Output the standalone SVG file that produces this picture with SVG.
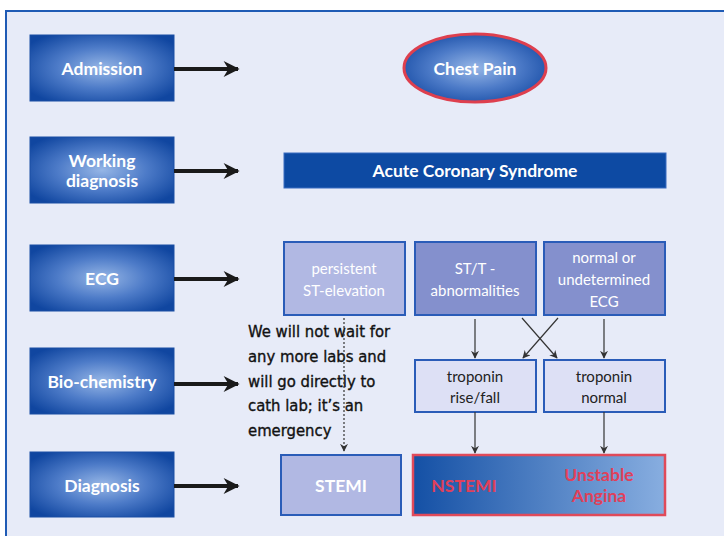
<svg xmlns="http://www.w3.org/2000/svg" width="724" height="536" viewBox="0 0 724 536">
<defs>
<radialGradient id="rg" cx="50%" cy="50%" r="62%">
<stop offset="0" stop-color="#96b6e6"/>
<stop offset="0.5" stop-color="#4d7bc8"/>
<stop offset="1" stop-color="#1046a0"/>
</radialGradient>
<linearGradient id="lg" x1="0" y1="0" x2="1" y2="0">
<stop offset="0" stop-color="#1450a5"/>
<stop offset="1" stop-color="#88aee0"/>
</linearGradient>
<marker id="thick" viewBox="0 0 10 10" refX="9" refY="5" markerWidth="5" markerHeight="4" orient="auto" markerUnits="strokeWidth">
<path d="M0,0 L10,5 L0,10 L3,5 Z" fill="#1a1a1a"/>
</marker>
<marker id="thin" viewBox="0 0 10 10" refX="9" refY="5" markerWidth="8" markerHeight="8" orient="auto" markerUnits="userSpaceOnUse">
<path d="M0,0 L10,5 L0,10 L3,5 Z" fill="#333"/>
</marker>
<style>
.lbox{fill:url(#rg);stroke:#1a4fa3;stroke-width:1}
.lt{font-family:Lato,"Open Sans",sans-serif;font-weight:bold;font-size:17.5px;fill:#ffffff;text-anchor:middle}
.wt{font-family:Lato,"Open Sans",sans-serif;font-size:15px;fill:#ffffff;text-anchor:middle}
.dt{font-family:Lato,"Open Sans",sans-serif;font-size:15px;fill:#222;text-anchor:middle}
.rt{font-family:Lato,"Open Sans",sans-serif;font-weight:bold;font-size:17.5px;fill:#e0405a;text-anchor:middle}
.hand{font-family:"DejaVu Sans Condensed","DejaVu Sans",sans-serif;font-size:16.5px;fill:#111;stroke:#111;stroke-width:0.35}
.big{stroke:#1a1a1a;stroke-width:4;fill:none;marker-end:url(#thick)}
.sm{stroke:#333;stroke-width:1.2;fill:none;marker-end:url(#thin)}
</style>
</defs>
<rect x="0" y="0" width="724" height="536" fill="#ffffff"/>
<rect x="6" y="11" width="730" height="540" fill="#e7ebf8" stroke="#1f5bb5" stroke-width="2"/>

<g id="admission"><rect class="lbox" x="30" y="35" width="144" height="66"/><text class="lt" x="102" y="75">Admission</text></g>
<g id="working"><rect class="lbox" x="30" y="137" width="144" height="66"/><text class="lt" x="102" y="167">Working</text><text class="lt" x="102" y="187">diagnosis</text></g>
<g id="ecg"><rect class="lbox" x="30" y="245" width="144" height="66"/><text class="lt" x="102" y="285">ECG</text></g>
<g id="biochem"><rect class="lbox" x="30" y="348" width="144" height="66"/><text class="lt" x="102" y="388">Bio-chemistry</text></g>
<g id="diagnosis"><rect class="lbox" x="30" y="452" width="144" height="65"/><text class="lt" x="102" y="492">Diagnosis</text></g>

<g id="chestpain"><ellipse cx="475" cy="68" rx="71" ry="34" fill="url(#rg)" stroke="#de3f4e" stroke-width="3"/><text class="lt" x="475" y="75">Chest Pain</text></g>
<g id="acs"><rect x="284" y="153" width="382" height="35" fill="#0d4aa3" stroke="#3a6cc0" stroke-width="1"/><text class="lt" x="475" y="177">Acute Coronary Syndrome</text></g>

<g id="persistent"><rect x="284" y="242" width="121" height="73" fill="#b1b8e3" stroke="#2a5cb8" stroke-width="2"/><text class="wt" x="344" y="274">persistent</text><text class="wt" x="344" y="296">ST-elevation</text></g>
<g id="stt"><rect x="415" y="242" width="121" height="73" fill="#8490cd" stroke="#2a5cb8" stroke-width="2"/><text class="wt" x="475" y="274">ST/T -</text><text class="wt" x="475" y="296">abnormalities</text></g>
<g id="normal"><rect x="544" y="242" width="121" height="73" fill="#8490cd" stroke="#2a5cb8" stroke-width="2"/><text class="wt" x="604" y="263">normal or</text><text class="wt" x="604" y="285">undetermined</text><text class="wt" x="604" y="307">ECG</text></g>

<g id="tropRise"><rect x="415" y="360" width="121" height="52" fill="#dde0f5" stroke="#2a5cb8" stroke-width="2"/><text class="dt" x="475" y="382">troponin</text><text class="dt" x="475" y="403">rise/fall</text></g>
<g id="tropNormal"><rect x="544" y="360" width="121" height="52" fill="#dde0f5" stroke="#2a5cb8" stroke-width="2"/><text class="dt" x="604" y="382">troponin</text><text class="dt" x="604" y="403">normal</text></g>

<g id="stemi"><rect x="281" y="455" width="120" height="60" fill="#b1b8e3" stroke="#2a5cb8" stroke-width="2"/><text class="lt" x="341" y="492">STEMI</text></g>
<g id="nstemi"><rect x="413" y="455" width="252" height="60" fill="url(#lg)" stroke="#e04a5a" stroke-width="2.5"/><text class="rt" x="464" y="492">NSTEMI</text><text class="rt" x="599" y="481">Unstable</text><text class="rt" x="599" y="502">Angina</text></g>

<g id="note"><text class="hand"><tspan x="248" y="337">We will not wait for</tspan><tspan x="248" y="362">any more labs and</tspan><tspan x="248" y="387">will go directly to</tspan><tspan x="248" y="411">cath lab; it’s an</tspan><tspan x="248" y="436">emergency</tspan></text></g>

<g id="connectors">
<line class="big" x1="174" y1="69" x2="238" y2="69"/>
<line class="big" x1="174" y1="171" x2="238" y2="171"/>
<line class="big" x1="174" y1="279" x2="238" y2="279"/>
<line class="big" x1="174" y1="384" x2="238" y2="384"/>
<line class="big" x1="174" y1="486" x2="238" y2="486"/>
<line class="sm" x1="475" y1="319" x2="475" y2="358"/>
<line class="sm" x1="604" y1="319" x2="604" y2="358"/>
<line class="sm" x1="522" y1="318" x2="557" y2="358"/>
<line class="sm" x1="558" y1="318" x2="523" y2="358"/>
<line class="sm" x1="475" y1="412" x2="475" y2="453"/>
<line class="sm" x1="604" y1="412" x2="604" y2="453"/>
<line class="sm" x1="344" y1="318" x2="344" y2="451" stroke-dasharray="2,2"/>
</g>
</svg>
